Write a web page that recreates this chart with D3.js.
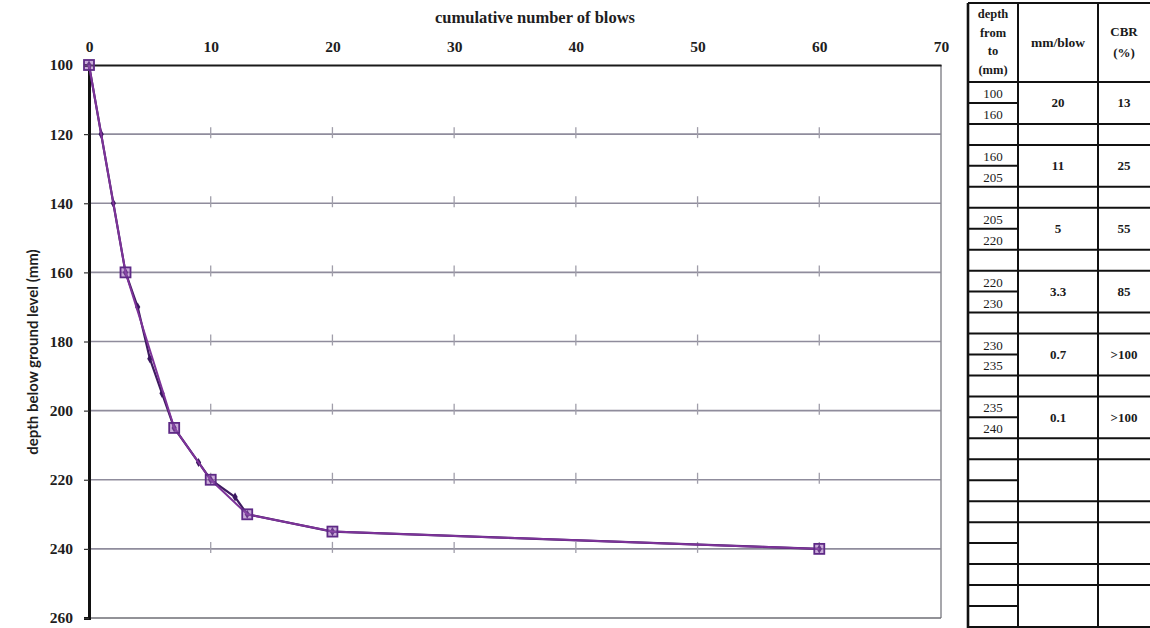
<!DOCTYPE html>
<html>
<head>
<meta charset="utf-8">
<script src="https://cdn.jsdelivr.net/npm/d3@7"></script>
<style>
  html, body { margin: 0; padding: 0; background: #fff; }
  svg { display: block; }
</style>
</head>
<body>
<svg id="chart" width="1150" height="628"></svg>
<script>
// DCP test: every reading
const readingBlows = [0, 1, 2, 3, 4, 5, 6, 7, 9, 10, 12, 13, 20, 60];
const readingDepth = [100, 120, 140, 160, 170, 185, 195, 205, 215, 220, 225, 230, 235, 240];

// layer boundaries picked on the curve
const breakBlows = [0, 3, 7, 10, 13, 20, 60];
const breakDepth = [100, 160, 205, 220, 230, 235, 240];

// axis ticks
const blowTicks = [0, 10, 20, 30, 40, 50, 60, 70];
const depthTicks = [100, 120, 140, 160, 180, 200, 220, 240, 260];

// summary table
const layerFrom = ["100", "160", "205", "220", "230", "235"];
const layerTo = ["160", "205", "220", "230", "235", "240"];
const mmPerBlow = ["20", "11", "5", "3.3", "0.7", "0.1"];
const cbrValues = ["13", "25", "55", "85", ">100", ">100"];
const emptyGroups = 3;

const svg = d3.select("#chart");
const serif = "'Liberation Serif', 'DejaVu Serif', serif";

const defs = svg.append("defs");
defs.append("filter").attr("id", "soft").append("feGaussianBlur").attr("stdDeviation", 1.2);

// page edges
svg.append("line").attr("x1", 7).attr("x2", 7).attr("y1", 0).attr("y2", 628)
  .attr("stroke", "#d8d8d8").attr("stroke-width", 3).attr("filter", "url(#soft)");
svg.append("line").attr("x1", 0).attr("x2", 960).attr("y1", 1).attr("y2", 1)
  .attr("stroke", "#dcdcdc").attr("stroke-width", 3).attr("filter", "url(#soft)");
svg.append("line").attr("x1", 961).attr("x2", 961).attr("y1", 0).attr("y2", 628)
  .attr("stroke", "#cfcfcf").attr("stroke-width", 4).attr("filter", "url(#soft)");

const x = d3.scaleLinear().domain([0, 70]).range([89, 941]);
const y = d3.scaleLinear().domain([100, 260]).range([65, 618]);

// vertical gridlines (soft)
svg.append("g").selectAll("line").data(blowTicks.slice(1, -1)).join("line")
  .attr("x1", d => x(d)).attr("x2", d => x(d))
  .attr("y1", y(100)).attr("y2", y(260))
  .attr("stroke", "#c8c8ce").attr("stroke-width", 3).attr("filter", "url(#soft)");

// horizontal gridlines
svg.append("g").selectAll("line").data(depthTicks.slice(1, -1)).join("line")
  .attr("x1", x(0)).attr("x2", x(70))
  .attr("y1", d => y(d)).attr("y2", d => y(d))
  .attr("stroke", "#8f8c9c").attr("stroke-width", 1.6);

// cross marks where gridlines meet
const crosses = [];
blowTicks.slice(1, -1).forEach(b => depthTicks.slice(1, -1).forEach(dp => crosses.push([b, dp])));
svg.append("g").selectAll("line").data(crosses).join("line")
  .attr("x1", d => x(d[0])).attr("x2", d => x(d[0]))
  .attr("y1", d => y(d[1]) - 7).attr("y2", d => y(d[1]) + 4)
  .attr("stroke", "#a09eaa").attr("stroke-width", 1.3);

// plot frame
svg.append("line").attr("x1", x(70)).attr("x2", x(70)).attr("y1", y(100)).attr("y2", y(260))
  .attr("stroke", "#8a8a90").attr("stroke-width", 1.5);
svg.append("line").attr("x1", x(0)).attr("x2", x(70)).attr("y1", y(260)).attr("y2", y(260))
  .attr("stroke", "#6e6e74").attr("stroke-width", 1.5);

// top axis
const xAxis = d3.axisTop(x).tickValues(blowTicks).tickSize(0).tickPadding(13)
  .tickFormat(d3.format("d"));
const gx = svg.append("g").attr("transform", `translate(0,${y(100)})`).call(xAxis);
gx.select(".domain").attr("stroke", "#1a1a1a").attr("stroke-width", 2.2);
gx.selectAll("text").attr("font-family", serif).attr("font-size", 15.5)
  .attr("font-weight", "bold").attr("fill", "#1e1e1e");

// left axis
const yAxis = d3.axisLeft(y).tickValues(depthTicks).tickSize(5).tickPadding(11)
  .tickFormat(d3.format("d"));
const gy = svg.append("g").attr("transform", `translate(${x(0)},0)`).call(yAxis);
gy.select(".domain").attr("stroke", "#111").attr("stroke-width", 3);
gy.selectAll(".tick line").attr("stroke", "#333").attr("stroke-width", 1.2);
gy.selectAll("text").attr("font-family", serif).attr("font-size", 15.5)
  .attr("font-weight", "bold").attr("fill", "#1e1e1e");

// axis titles
svg.append("text").attr("x", 535).attr("y", 23).attr("text-anchor", "middle")
  .attr("font-family", serif).attr("font-size", 16.5).attr("font-weight", "bold")
  .attr("fill", "#1e1e1e").text("cumulative number of blows");
svg.append("text").attr("transform", "translate(38,352) rotate(-90)")
  .attr("text-anchor", "middle").attr("font-family", "Lato, 'Open Sans', sans-serif")
  .attr("font-size", 15).attr("font-weight", "bold").attr("fill", "#1e1e1e")
  .text("depth below ground level (mm)");

// curves
const readings = readingBlows.map((b, i) => ({ b, d: readingDepth[i] }));
const breaks = breakBlows.map((b, i) => ({ b, d: breakDepth[i] }));
const line = d3.line().x(p => x(p.b)).y(p => y(p.d));

svg.append("path").datum(readings).attr("d", line).attr("fill", "none")
  .attr("stroke", "#3e1b60").attr("stroke-width", 2.2);
svg.append("g").selectAll("path").data(readings).join("path")
  .attr("transform", p => `translate(${x(p.b)},${y(p.d)})`)
  .attr("d", d3.symbol(d3.symbolDiamond, 24))
  .attr("fill", "#3a1760");

svg.append("path").datum(breaks).attr("d", line).attr("fill", "none")
  .attr("stroke", "#7d3399").attr("stroke-width", 2);
svg.append("g").selectAll("rect").data(breaks).join("rect")
  .attr("x", p => x(p.b) - 5).attr("y", p => y(p.d) - 5)
  .attr("width", 10).attr("height", 10)
  .attr("fill", "rgba(150,90,180,0.5)").attr("stroke", "#5e2a86").attr("stroke-width", 1.8);

// summary table
const tx = [968, 1018, 1098, 1150];
const tableTop = 3, headBottom = 82, rowH = 20.96;
const tbl = svg.append("g");
const ink = "#111";
function hline(x1, x2, yy) {
  tbl.append("line").attr("x1", x1).attr("x2", x2).attr("y1", yy).attr("y2", yy)
    .attr("stroke", ink).attr("stroke-width", 2);
}
function txt(xx, yy, s, size, bold) {
  tbl.append("text").attr("x", xx).attr("y", yy).attr("text-anchor", "middle")
    .attr("dominant-baseline", "central").attr("font-family", serif)
    .attr("font-size", size).attr("font-weight", bold ? "bold" : "normal")
    .attr("fill", "#1a1a1a").text(s);
}
// verticals
[tx[0], tx[1], tx[2]].forEach((vx, i) => {
  tbl.append("line").attr("x1", vx).attr("x2", vx).attr("y1", tableTop).attr("y2", 628)
    .attr("stroke", ink).attr("stroke-width", i === 0 ? 2.6 : 2);
});
hline(tx[0], tx[3], tableTop);
hline(tx[0], tx[3], headBottom);

// header
const c0 = (tx[0] + tx[1]) / 2, c1 = (tx[1] + tx[2]) / 2, c2 = (tx[2] + tx[3]) / 2;
["depth", "from", "to", "(mm)"].forEach((s, i) => txt(c0, 14 + i * 18.5, s, 12.5, true));
txt(c1, 42, "mm/blow", 13.5, true);
txt(c2, 31, "CBR", 13, true);
txt(c2, 52, "(%)", 13, true);

// body: each layer is two rows plus a blank spacer row
const groups = layerFrom.length + emptyGroups;
for (let g = 0; g < groups; g++) {
  const g0 = headBottom + g * 3 * rowH;
  hline(tx[0], tx[1], g0 + rowH);
  hline(tx[0], tx[3], g0 + 2 * rowH);
  hline(tx[0], tx[3], g0 + 3 * rowH);
  if (g < layerFrom.length) {
    txt(c0, g0 + rowH / 2 + 1, layerFrom[g], 13, false);
    txt(c0, g0 + rowH * 1.5 + 1, layerTo[g], 13, false);
    txt(c1, g0 + rowH, mmPerBlow[g], 13, true);
    txt(c2, g0 + rowH, cbrValues[g], 13, true);
  }
}
</script>
</body>
</html>
